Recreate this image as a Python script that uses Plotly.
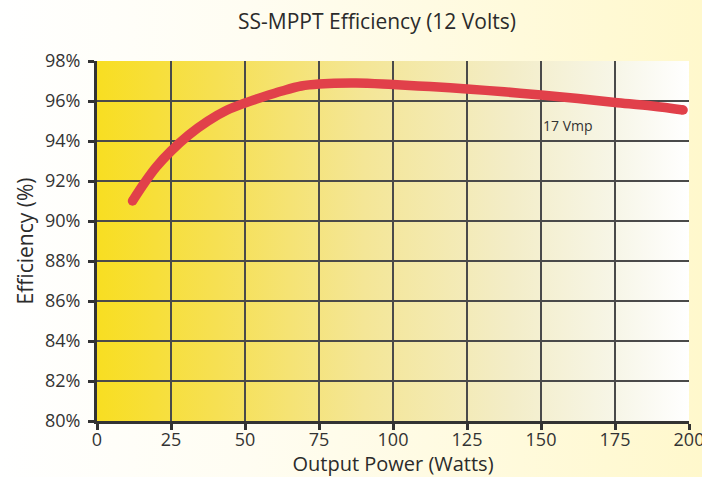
import base64
import plotly.graph_objects as go

# Data
power_w = [12, 16, 20, 25, 31, 37.5, 44, 50, 56, 62.5, 69, 75, 87.5, 100, 112.5, 125, 137.5, 150, 162.5, 175, 187.5, 198]
efficiency = [91.0, 91.9, 92.7, 93.5, 94.3, 95.0, 95.55, 95.9, 96.2, 96.5, 96.75, 96.85, 96.9, 96.82, 96.72, 96.6, 96.46, 96.3, 96.12, 95.93, 95.75, 95.55]
x_ticks = [0, 25, 50, 75, 100, 125, 150, 175, 200]
y_ticks = [80, 82, 84, 86, 88, 90, 92, 94, 96, 98]
label_text = "17 Vmp"
label_pos = (159, 94.8)

W, H = 702, 477
L, R, T, B = 97, 13, 61, 56
pw, ph = W - L - R, H - T - B


def grad_svg(stops):
    st = "".join(f'<stop offset="{o}" stop-color="{c}"/>' for o, c in stops)
    svg = (f'<svg xmlns="http://www.w3.org/2000/svg" width="100" height="100" preserveAspectRatio="none">'
           f'<defs><linearGradient id="g" x1="0" y1="0" x2="1" y2="0">{st}</linearGradient></defs>'
           f'<rect width="100" height="100" fill="url(#g)"/></svg>')
    return "data:image/svg+xml;base64," + base64.b64encode(svg.encode()).decode()


paper_bg = grad_svg([(0, "#FFFFFF"), (0.35, "#FFFDF2"), (1, "#FFF8CC")])
plot_bg = grad_svg([(0, "#F8DE22"), (0.2, "#F6E052"), (0.45, "#F4E696"), (0.7, "#F3EDC8"), (0.88, "#F7F6E8"), (1, "#FFFFFF")])

font = "Open Sans, Noto Sans, sans-serif"
red = "#E1404A"
grid = "#4a4a4a"

fig = go.Figure()
fig.add_trace(go.Scatter(x=power_w, y=efficiency, mode="lines",
                         line=dict(color=red, width=9.5, shape="spline", smoothing=1.0),
                         hoverinfo="skip", showlegend=False))
fig.add_trace(go.Scatter(x=[power_w[0], power_w[-1]], y=[efficiency[0], efficiency[-1]], mode="markers",
                         marker=dict(color=red, size=9.5, line=dict(width=0)),
                         hoverinfo="skip", showlegend=False))

fig.add_annotation(x=label_pos[0], y=label_pos[1], text=label_text, showarrow=False,
                   font=dict(family=font, size=14, color="#333333"))

fig.update_layout(
    width=W, height=H,
    margin=dict(l=L, r=R, t=T, b=B, autoexpand=False),
    paper_bgcolor="rgba(0,0,0,0)",
    plot_bgcolor="rgba(0,0,0,0)",
    title=dict(text="SS-MPPT Efficiency (12 Volts)", x=377 / W, xanchor="center", y=1 - 22 / H, yanchor="middle",
               font=dict(family=font, size=21, color="#2b2b2b")),
    images=[
        dict(source=paper_bg, xref="paper", yref="paper", x=-L / pw, y=1 + T / ph, sizex=W / pw, sizey=H / ph,
             sizing="stretch", layer="below", xanchor="left", yanchor="top"),
        dict(source=plot_bg, xref="paper", yref="paper", x=0, y=1, sizex=1, sizey=1,
             sizing="stretch", layer="below", xanchor="left", yanchor="top"),
    ],
    xaxis=dict(range=[0, 200], tickvals=x_ticks, ticktext=[str(v) for v in x_ticks],
               automargin=False, ticklabeloverflow="allow", ticklabelstandoff=-6,
               showgrid=False,
               minor=dict(tickvals=x_ticks[1:-1], showgrid=True, gridcolor=grid, gridwidth=1.3, ticks=""),
               showline=True, linecolor="#333333", linewidth=3,
               ticks="outside", ticklen=6, tickwidth=3, tickcolor="#333333",
               tickfont=dict(family=font, size=18, color="#333333"), zeroline=False,
               title=dict(text="Output Power (Watts)", standoff=4,
                          font=dict(family=font, size=20, color="#2b2b2b"))),
    yaxis=dict(range=[80, 98], tickvals=y_ticks, ticktext=[f"{v}%" for v in y_ticks],
               automargin=False, ticklabelstandoff=4,
               showgrid=False,
               minor=dict(tickvals=y_ticks[1:-1], showgrid=True, gridcolor=grid, gridwidth=1.3, ticks=""),
               showline=True, linecolor="#333333", linewidth=3,
               ticks="outside", ticklen=6, tickwidth=3, tickcolor="#333333",
               tickfont=dict(family=font, size=18, color="#333333"), zeroline=False,
               title=dict(text="Efficiency (%)", standoff=6,
                          font=dict(family=font, size=21, color="#2b2b2b"))),
)

fig.write_html("out.html", config={"displayModeBar": False, "staticPlot": True})

with open("out.html", "r", encoding="utf-8") as f:
    html = f.read()
style = "<style>html,body{margin:0;padding:0;overflow:hidden;}</style>"
html = html.replace("<head>", "<head>" + style, 1)
with open("out.html", "w", encoding="utf-8") as f:
    f.write(html)
